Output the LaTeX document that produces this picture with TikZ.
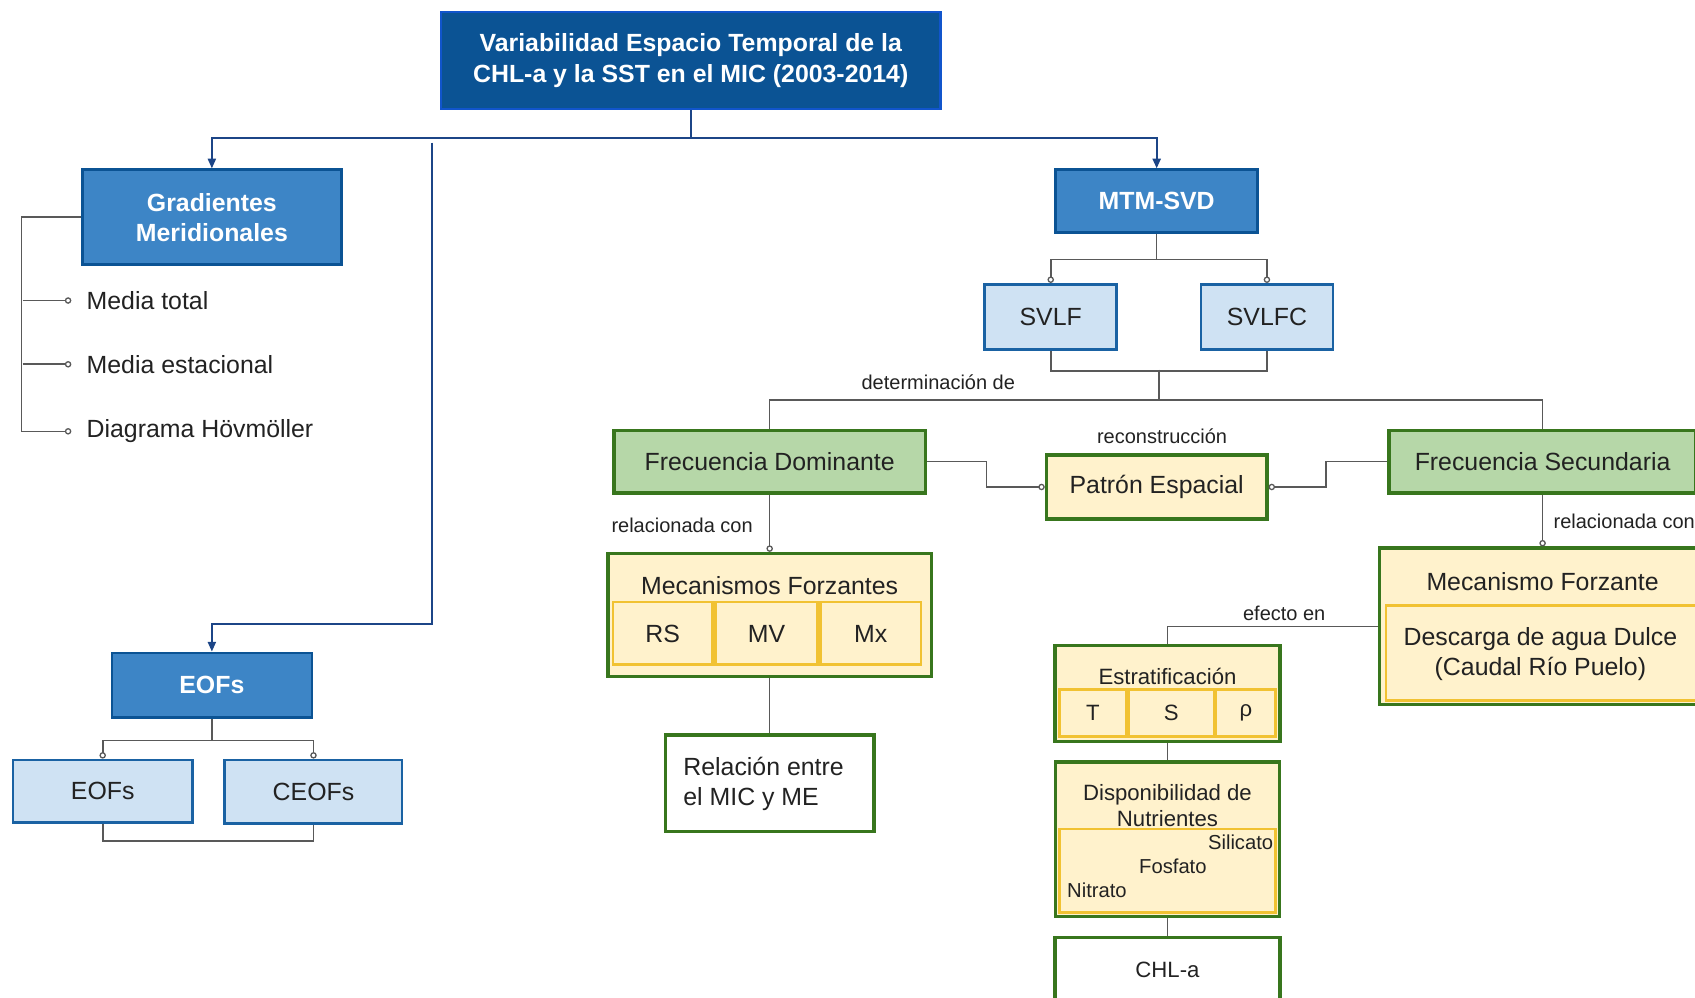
\documentclass[tikz,border=0pt]{standalone}
\usepackage{fontspec}
\setmainfont{Liberation Sans}
\usetikzlibrary{arrows.meta}
\definecolor{dblue}{HTML}{0B5394}
\definecolor{mblue}{HTML}{3D85C6}
\definecolor{lblue}{HTML}{CFE2F3}
\definecolor{bborder}{HTML}{1155CC}
\definecolor{gfill}{HTML}{B6D7A8}
\definecolor{gborder}{HTML}{38761D}
\definecolor{yfill}{HTML}{FFF2CC}
\definecolor{yborder}{HTML}{F1C232}
\definecolor{lineg}{HTML}{595959}
\definecolor{lineb}{HTML}{1C4587}
\definecolor{txt}{HTML}{222222}
\tikzset{
 base/.style={rectangle, inner sep=0pt, align=center, text=txt, font=\fontsize{23}{28}\selectfont},
 topbox/.style={base, draw=bborder, fill=dblue, line width=2pt, text=white, font=\fontsize{23}{28}\selectfont\bfseries},
 bluebox/.style={base, draw=dblue, fill=mblue, line width=2.5pt, text=white, font=\fontsize{23}{28}\selectfont\bfseries},
 lbluebox/.style={base, draw=dblue!70!mblue, fill=lblue, line width=2.5pt},
 greenbox/.style={base, draw=gborder, fill=gfill, line width=3pt},
 yellowbox/.style={base, draw=gborder, fill=yfill, line width=3pt},
 whitebox/.style={base, draw=gborder, fill=white, line width=3pt},
 cellbox/.style={base, draw=yborder, fill=yfill, line width=2.5pt},
 plaintext/.style={base},
 midtext/.style={base, font=\fontsize{20.5}{24}\selectfont},
 nutext/.style={base, font=\fontsize{18.7}{22}\selectfont},
 smalllabel/.style={base, font=\fontsize{18.5}{22}\selectfont},
 gline/.style={draw=lineg, line width=1.5pt},
 gcirc/.style={gline, -{Circle[open, length=6pt, width=6pt, fill=white, line width=1.2pt]}},
 barrow/.style={draw=lineb, line width=1.8pt, -{Triangle[length=9pt, width=7.5pt]}},
 bline/.style={draw=lineb, line width=1.8pt},
}
\begin{document}
\begin{tikzpicture}[x=1pt,y=-1pt]
\useasboundingbox (0,0) rectangle (1568,923);
\clip (0,0) rectangle (1568,923);

% top
\node[topbox, minimum width=462pt, minimum height=90pt] (top) at (639,56) {Variabilidad Espacio Temporal de la\\CHL-a y la SST en el MIC (2003-2014)};

% blue boxes
\node[bluebox, minimum width=240pt, minimum height=88pt] (grad) at (196,201) {Gradientes\\Meridionales};
\node[bluebox, minimum width=187pt, minimum height=58pt] (mtm) at (1070,186) {MTM-SVD};
\node[bluebox, minimum width=185pt, minimum height=60pt] (eofs) at (196,634) {EOFs};

% light blue boxes
\node[lbluebox, minimum width=122pt, minimum height=60pt] (svlf) at (972,293) {SVLF};
\node[lbluebox, minimum width=122pt, minimum height=60pt] (svlfc) at (1172,293) {SVLFC};
\node[lbluebox, minimum width=166pt, minimum height=58pt] (eofsl) at (95,732) {EOFs};
\node[lbluebox, minimum width=164pt, minimum height=59pt] (ceofs) at (290,732.5) {CEOFs};

% left list
\node[plaintext, anchor=west] (mt) at (80,278) {Media total};
\node[plaintext, anchor=west] (me) at (80,337) {Media estacional};
\node[plaintext, anchor=west] (dh) at (80,399) {Diagrama Hövmöller};

% green boxes
\node[greenbox, minimum width=288pt, minimum height=58pt] (fd) at (712,427) {Frecuencia Dominante};
\node[greenbox, minimum width=284pt, minimum height=58pt] (fs) at (1427,427) {Frecuencia Secundaria};

% patron espacial
\node[yellowbox, minimum width=204pt, minimum height=59pt] (pe) at (1070,450.5) {Patrón Espacial};

% mecanismos forzantes
\node[yellowbox, minimum width=299pt, minimum height=114pt] (mf) at (712,569) {};
\node[plaintext] (mft) at (712,542) {Mecanismos Forzantes};
\node[cellbox, minimum width=92pt, minimum height=58pt] (rs) at (613,586) {RS};
\node[cellbox, minimum width=94pt, minimum height=58pt] (mv) at (709,586) {MV};
\node[cellbox, minimum width=93pt, minimum height=58pt] (mx) at (805.5,586) {Mx};

% relacion
\node[whitebox, minimum width=193pt, minimum height=89pt] (rel) at (712,724.5) {};
\node[plaintext, anchor=west, align=left] (relt) at (632,725) {Relación entre\\el MIC y ME};

% mecanismo forzante (right)
\node[yellowbox, minimum width=302pt, minimum height=145pt] (mef) at (1427,579.5) {};
\node[plaintext] (meft) at (1427,538) {Mecanismo Forzante};
\node[cellbox, minimum width=290pt, minimum height=88pt] (desc) at (1427,604) {};
\node[plaintext] (desct) at (1425,605) {Descarga de agua Dulce\\(Caudal Río Puelo)};

% estratificacion
\node[yellowbox, minimum width=208pt, minimum height=89pt] (est) at (1080,641.5) {};
\node[midtext] (estt) at (1080,626) {Estratificación};
\node[cellbox, midtext, minimum width=62pt, minimum height=43pt] (ct) at (1011,659.5) {T};
\node[cellbox, midtext, minimum width=79pt, minimum height=43pt] (cs) at (1083.5,659.5) {S};
\node[cellbox, midtext, minimum width=55pt, minimum height=43pt] (cr) at (1152.5,659.5) {ρ};

% disponibilidad
\node[yellowbox, minimum width=207pt, minimum height=143pt] (disp) at (1080,776.5) {};
\node[midtext] (dispt) at (1080,745) {Disponibilidad de\\Nutrientes};
\node[cellbox, minimum width=200pt, minimum height=77pt] (nut) at (1080,805.5) {};
\node[nutext, anchor=east] (sil) at (1178,779) {Silicato};
\node[nutext] (fos) at (1085,801) {Fosfato};
\node[nutext, anchor=west] (nit) at (987,824) {Nitrato};

% CHL-a
\node[whitebox, midtext, minimum width=208pt, minimum height=60pt] (chl) at (1080,897) {CHL-a};

% labels
\node[smalllabel] (ldet) at (868,354) {determinación de};
\node[smalllabel] (lrec) at (1075,404) {reconstrucción};
\node[smalllabel] (lrel1) at (631,486) {relacionada con};
\node[smalllabel, anchor=west] (lrel2) at (1437,482) {relacionada con};
\node[smalllabel] (lefe) at (1188,567) {efecto en};

% top connectors
\coordinate (tj) at (639,128);
\draw[bline] (top.south) -- (tj);
\draw[barrow] (tj) -| (grad.north);
\draw[barrow] (tj) -| (mtm.north);
\coordinate (ej) at (400,132);
\coordinate (ek) at (400,577);
\draw[barrow] (ej) -- (ek) -| (eofs.north);

% gradientes bracket
\draw[gline] (grad.west) -- ++(-55,0) |- ([xshift=-14pt]dh.west);
\draw[gcirc] (21,278) -- ([xshift=-14pt]mt.west);
\draw[gcirc] (21,337) -- ([xshift=-14pt]me.west);
\draw[gcirc] (21,399) -- ([xshift=-14pt]dh.west);

% mtm-svd
\coordinate (mj) at (1070,240);
\draw[gline] (mtm.south) -- (mj);
\draw[gcirc] (mj) -| (svlf.north);
\draw[gcirc] (mj) -| (svlfc.north);
\draw[gline] (svlf.south) -- ++(0,19) -| (svlfc.south);
\coordinate (sj) at (1072,342);
\coordinate (dj) at (1072,370);
\draw[gline] (sj) -- (dj);
\draw[gline] (dj) -| (fd.north);
\draw[gline] (dj) -| (fs.north);

% patron espacial
\draw[gcirc] (fd.east) -- ++(55,0) |- (pe.west);
\draw[gcirc] (fs.west) -- ++(-57,0) |- (pe.east);

% vertical chains
\draw[gcirc] (fd.south) -- (mf.north);
\draw[gline] (mf.south) -- (rel.north);
\draw[gcirc] (fs.south) -- (mef.north);
\draw[gline] (mef.west) -| (est.north);
\draw[gline] (est.south) -- (disp.north);
\draw[gline] (disp.south) -- (chl.north);

% eofs
\coordinate (oj) at (196,685);
\draw[gline] (eofs.south) -- (oj);
\draw[gcirc] (oj) -| (eofsl.north);
\draw[gcirc] (oj) -| (ceofs.north);
\draw[gline] (eofsl.south) -- ++(0,16) -| (ceofs.south);
\end{tikzpicture}
\end{document}
